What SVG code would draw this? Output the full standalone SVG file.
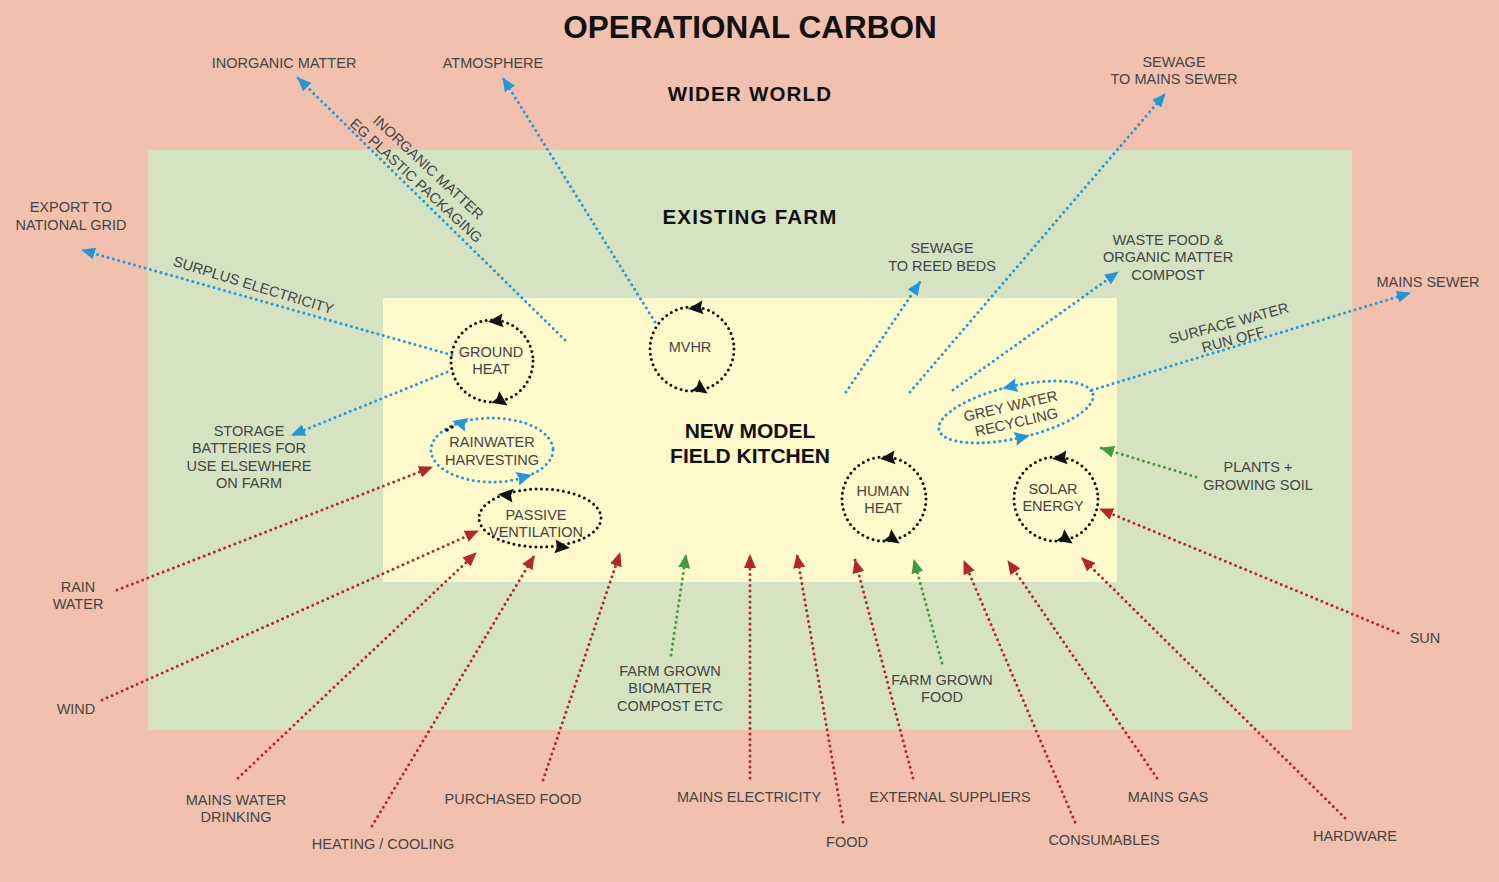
<svg xmlns="http://www.w3.org/2000/svg" width="1499" height="882" viewBox="0 0 1499 882">
<defs>
<style>
.lbl{font-family:"Liberation Sans",Arial,sans-serif;font-size:14.5px;fill:#444;text-anchor:middle}
.hd{font-family:"Liberation Sans",Arial,sans-serif;font-weight:bold;fill:#111;text-anchor:middle}
.blue{fill:none;stroke:#2596D4;stroke-width:3;stroke-dasharray:0 5.5;stroke-linecap:round}
.red{fill:none;stroke:#B3262B;stroke-width:3;stroke-dasharray:0 5.5;stroke-linecap:round}
.green{fill:none;stroke:#3E9B3E;stroke-width:3;stroke-dasharray:0 5.5;stroke-linecap:round}
.cyc{fill:none;stroke:#111;stroke-width:3;stroke-dasharray:0 5.5;stroke-linecap:round}
.cycb{fill:none;stroke:#2596D4;stroke-width:3;stroke-dasharray:0 5.5;stroke-linecap:round}
</style>
<marker id="mb" markerUnits="userSpaceOnUse" markerWidth="14" markerHeight="12" refX="13" refY="6" orient="auto"><path d="M0,0 L14,6 L0,12 Z" fill="#2596D4"/></marker>
<marker id="mr" markerUnits="userSpaceOnUse" markerWidth="14" markerHeight="12" refX="13" refY="6" orient="auto"><path d="M0,0 L14,6 L0,12 Z" fill="#B3262B"/></marker>
<marker id="mg" markerUnits="userSpaceOnUse" markerWidth="14" markerHeight="12" refX="13" refY="6" orient="auto"><path d="M0,0 L14,6 L0,12 Z" fill="#3E9B3E"/></marker>
<path id="ak" d="M-8,0 L7,-7 L5,0 L7,7 Z" fill="#111"/>
<path id="ab" d="M-8,0 L7,-7 L5,0 L7,7 Z" fill="#2596D4"/>
</defs>

<rect x="0" y="0" width="1499" height="882" fill="#F2C0AF"/>
<rect x="148" y="150" width="1204" height="580" fill="#D5E3C3"/>
<rect x="383" y="298" width="734" height="284" fill="#FEF9CB"/>

<g id="headings">
<text class="hd" x="750" y="38" font-size="31.5">OPERATIONAL CARBON</text>
<text class="hd" x="750" y="101" font-size="20.5" letter-spacing="1.2">WIDER WORLD</text>
<text class="hd" x="750" y="224" font-size="20.5" letter-spacing="1.2">EXISTING FARM</text>
</g>

<g id="connectors">
<!-- blue outputs -->
<line class="blue" x1="565" y1="340" x2="298" y2="78" marker-end="url(#mb)"/>
<line class="blue" x1="655" y1="322" x2="503" y2="78" marker-end="url(#mb)"/>
<line class="blue" x1="910" y1="392" x2="1165" y2="94" marker-end="url(#mb)"/>
<line class="blue" x1="452" y1="355" x2="82" y2="250" marker-end="url(#mb)"/>
<line class="blue" x1="447" y1="372" x2="292" y2="435" marker-end="url(#mb)"/>
<line class="blue" x1="846" y1="392" x2="920" y2="282" marker-end="url(#mb)"/>
<line class="blue" x1="953" y1="390" x2="1118" y2="272" marker-end="url(#mb)"/>
<line class="blue" x1="1092" y1="390" x2="1410" y2="293" marker-end="url(#mb)"/>
<!-- red inputs -->
<line class="red" x1="117" y1="590" x2="432" y2="467" marker-end="url(#mr)"/>
<line class="red" x1="102" y1="700" x2="478" y2="531" marker-end="url(#mr)"/>
<line class="red" x1="238" y1="778" x2="476" y2="553" marker-end="url(#mr)"/>
<line class="red" x1="372" y1="826" x2="534" y2="556" marker-end="url(#mr)"/>
<line class="red" x1="543" y1="780" x2="620" y2="553" marker-end="url(#mr)"/>
<line class="red" x1="750" y1="778" x2="750" y2="555" marker-end="url(#mr)"/>
<line class="red" x1="843" y1="822" x2="797" y2="555" marker-end="url(#mr)"/>
<line class="red" x1="913" y1="778" x2="855" y2="560" marker-end="url(#mr)"/>
<line class="red" x1="1075" y1="822" x2="964" y2="561" marker-end="url(#mr)"/>
<line class="red" x1="1157" y1="778" x2="1008" y2="561" marker-end="url(#mr)"/>
<line class="red" x1="1345" y1="818" x2="1082" y2="558" marker-end="url(#mr)"/>
<line class="red" x1="1398" y1="633" x2="1100" y2="509" marker-end="url(#mr)"/>
<!-- green inputs -->
<line class="green" x1="671" y1="655" x2="686" y2="555" marker-end="url(#mg)"/>
<line class="green" x1="942" y1="663" x2="914" y2="560" marker-end="url(#mg)"/>
<line class="green" x1="1196" y1="477" x2="1101" y2="448" marker-end="url(#mg)"/>
</g>

<g id="connector-labels">
<text class="lbl" transform="translate(425,171) rotate(43)"><tspan x="0" y="0">INORGANIC MATTER</tspan><tspan x="0" y="18">EG PLASTIC PACKAGING</tspan></text>
<text class="lbl" transform="translate(252,290) rotate(17)">SURPLUS ELECTRICITY</text>
<text class="lbl" transform="translate(1230,328) rotate(-15)"><tspan x="0" y="0">SURFACE WATER</tspan><tspan x="0" y="17">RUN OFF</tspan></text>
</g>

<g id="kitchen">
<text class="hd" x="750" y="438" font-size="21">NEW MODEL</text>
<text class="hd" x="750" y="463" font-size="21">FIELD KITCHEN</text>
</g>

<g id="ground-heat">
<circle class="cyc" cx="492" cy="361" r="41"/>
<use href="#ak" transform="translate(496,321) rotate(-5)"/>
<use href="#ak" transform="translate(501,401) rotate(215)"/>
<text class="lbl" x="491" y="357">GROUND</text>
<text class="lbl" x="491" y="374">HEAT</text>
</g>

<g id="mvhr">
<circle class="cyc" cx="692" cy="349" r="42"/>
<use href="#ak" transform="translate(696,308) rotate(-5)"/>
<use href="#ak" transform="translate(701,389) rotate(215)"/>
<text class="lbl" x="690" y="352">MVHR</text>
</g>

<g id="rainwater-harvesting">
<ellipse class="cycb" cx="492" cy="450" rx="61" ry="32"/>
<use href="#ab" transform="translate(460,423) rotate(15)"/>
<use href="#ab" transform="translate(524,477) rotate(165)"/>
<circle cx="447" cy="430" r="1.8" fill="#111"/>
<circle cx="452" cy="427" r="1.8" fill="#111"/>
<text class="lbl" x="492" y="447">RAINWATER</text>
<text class="lbl" x="492" y="465">HARVESTING</text>
</g>

<g id="passive-ventilation">
<ellipse class="cyc" cx="540" cy="518" rx="61" ry="29"/>
<use href="#ak" transform="translate(506,495) rotate(5)"/>
<use href="#ak" transform="translate(562,547) rotate(185)"/>
<text class="lbl" x="536" y="520">PASSIVE</text>
<text class="lbl" x="536" y="537">VENTILATION</text>
</g>

<g id="human-heat">
<circle class="cyc" cx="884" cy="499" r="42"/>
<use href="#ak" transform="translate(888,458) rotate(-5)"/>
<use href="#ak" transform="translate(893,539) rotate(215)"/>
<text class="lbl" x="883" y="496">HUMAN</text>
<text class="lbl" x="883" y="513">HEAT</text>
</g>

<g id="solar-energy">
<circle class="cyc" cx="1056" cy="499" r="42"/>
<use href="#ak" transform="translate(1060,458) rotate(-5)"/>
<use href="#ak" transform="translate(1066,539) rotate(215)"/>
<text class="lbl" x="1053" y="494">SOLAR</text>
<text class="lbl" x="1053" y="511">ENERGY</text>
</g>

<g id="grey-water-recycling" transform="translate(1016,412) rotate(-13)">
<ellipse class="cycb" cx="0" cy="0" rx="79" ry="26"/>
<use href="#ab" transform="translate(0,-26)"/>
<use href="#ab" transform="translate(0,26) rotate(180)"/>
<text class="lbl" x="-4" y="-2">GREY WATER</text>
<text class="lbl" x="-2" y="15">RECYCLING</text>
</g>

<g id="labels">
<text class="lbl" x="284" y="68">INORGANIC MATTER</text>
<text class="lbl" x="493" y="68">ATMOSPHERE</text>
<text class="lbl" x="1174" y="67">SEWAGE</text>
<text class="lbl" x="1174" y="84">TO MAINS SEWER</text>
<text class="lbl" x="71" y="212">EXPORT TO</text>
<text class="lbl" x="71" y="230">NATIONAL GRID</text>
<text class="lbl" x="942" y="253">SEWAGE</text>
<text class="lbl" x="942" y="271">TO REED BEDS</text>
<text class="lbl" x="1168" y="245">WASTE FOOD &amp;</text>
<text class="lbl" x="1168" y="262">ORGANIC MATTER</text>
<text class="lbl" x="1168" y="280">COMPOST</text>
<text class="lbl" x="1428" y="287">MAINS SEWER</text>
<text class="lbl" x="249" y="436">STORAGE</text>
<text class="lbl" x="249" y="453">BATTERIES FOR</text>
<text class="lbl" x="249" y="471">USE ELSEWHERE</text>
<text class="lbl" x="249" y="488">ON FARM</text>
<text class="lbl" x="1258" y="472">PLANTS +</text>
<text class="lbl" x="1258" y="490">GROWING SOIL</text>
<text class="lbl" x="78" y="592">RAIN</text>
<text class="lbl" x="78" y="609">WATER</text>
<text class="lbl" x="1425" y="643">SUN</text>
<text class="lbl" x="76" y="714">WIND</text>
<text class="lbl" x="670" y="676">FARM GROWN</text>
<text class="lbl" x="670" y="693">BIOMATTER</text>
<text class="lbl" x="670" y="711">COMPOST ETC</text>
<text class="lbl" x="942" y="685">FARM GROWN</text>
<text class="lbl" x="942" y="702">FOOD</text>
<text class="lbl" x="236" y="805">MAINS WATER</text>
<text class="lbl" x="236" y="822">DRINKING</text>
<text class="lbl" x="513" y="804">PURCHASED FOOD</text>
<text class="lbl" x="749" y="802">MAINS ELECTRICITY</text>
<text class="lbl" x="950" y="802">EXTERNAL SUPPLIERS</text>
<text class="lbl" x="1168" y="802">MAINS GAS</text>
<text class="lbl" x="383" y="849">HEATING / COOLING</text>
<text class="lbl" x="847" y="847">FOOD</text>
<text class="lbl" x="1104" y="845">CONSUMABLES</text>
<text class="lbl" x="1355" y="841">HARDWARE</text>
</g>
</svg>
